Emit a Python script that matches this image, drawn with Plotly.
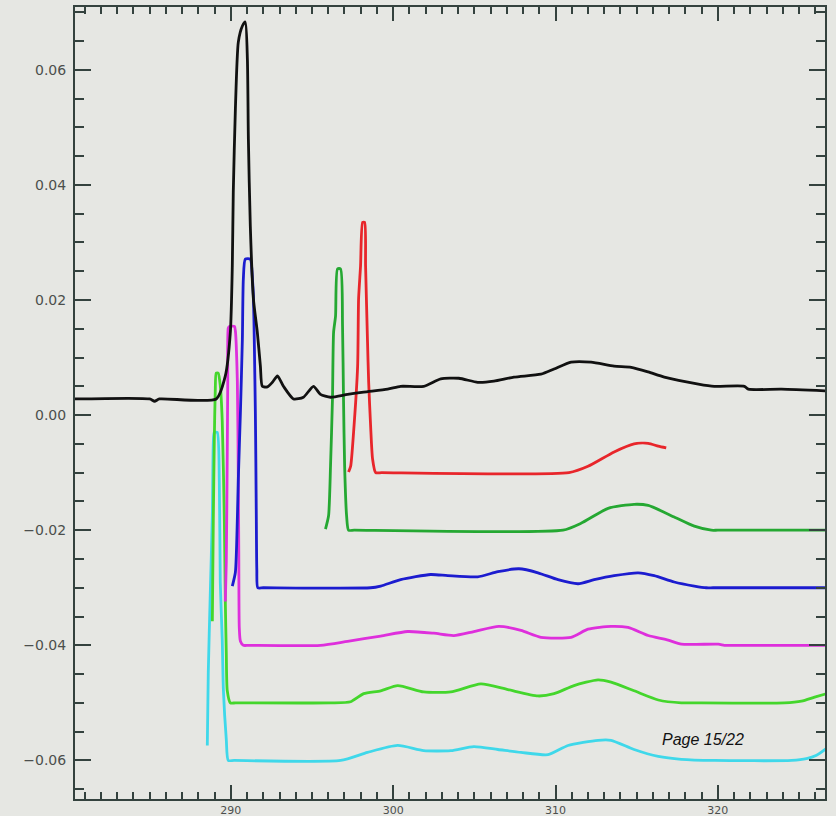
import plotly.graph_objects as go

# ---- data (wavelength, offset signal) ----
black_x = [280.4, 285.0, 285.3, 285.6, 289.1, 289.66, 289.97, 290.09, 290.15, 290.28,
           290.46, 290.71, 290.89, 291.02, 291.08, 291.2, 291.39, 291.63, 291.82, 291.94,
           292.25, 292.56, 292.87, 293.24, 293.86, 294.47, 295.09, 295.52, 296.14, 297.19,
           298.18, 299.66, 300.46, 301.88, 302.93, 304.04, 305.21, 306.2, 307.44, 309.1,
           309.91, 310.96, 312.19, 313.61, 314.66, 315.71, 316.7, 318.8, 319.78, 321.63,
           321.88, 323.92, 326.7]
black_y = [0.0028, 0.0028, 0.0024, 0.0028, 0.0028, 0.0068, 0.0144, 0.0259, 0.0387, 0.0532,
           0.0648, 0.0676, 0.0683, 0.0618, 0.048, 0.0328, 0.0202, 0.0144, 0.0085, 0.005,
           0.0049, 0.0057, 0.0068, 0.005, 0.0028, 0.0031, 0.005, 0.0036, 0.0031, 0.0036,
           0.004, 0.0045, 0.005, 0.005, 0.0063, 0.0064, 0.0057, 0.0059, 0.0066, 0.0071,
           0.008, 0.0092, 0.0092, 0.0085, 0.0083, 0.0075, 0.0066, 0.0054, 0.005, 0.005,
           0.0045, 0.0045, 0.0042]

red_x = [297.25, 297.38, 297.56, 297.81, 297.87, 297.99, 298.12, 298.24, 298.3, 298.42,
         298.49, 298.61, 298.73, 298.92, 299.3, 310.83, 312.0, 313.61, 314.84, 315.71, 316.33, 316.82]
red_y = [-0.0099, -0.0089, -0.003, 0.0085, 0.0202, 0.0259, 0.0335, 0.0335, 0.0259, 0.0127,
         0.0057, -0.0019, -0.0076, -0.01, -0.01, -0.01, -0.0089, -0.0064, -0.005, -0.0049, -0.0054, -0.0057]

green_x = [295.83, 296.02, 296.14, 296.26, 296.33, 296.45, 296.57, 296.76, 296.88, 296.94,
           297.01, 297.13, 297.25, 297.6, 310.46, 311.57, 313.24, 314.84, 315.71, 317.31, 318.55,
           319.6, 320.0, 326.7]
green_y = [-0.0198, -0.0175, -0.0089, 0.0028, 0.0144, 0.0172, 0.0254, 0.0254, 0.0155, 0.0028,
           -0.0089, -0.0175, -0.02, -0.02, -0.02, -0.0188, -0.0162, -0.0155, -0.0157, -0.0177, -0.0193,
           -0.02, -0.02, -0.02]

blue_x = [290.09, 290.28, 290.4, 290.46, 290.59, 290.71, 290.77, 290.89, 291.2, 291.33,
          291.39, 291.45, 291.51, 291.54, 291.57, 291.6, 291.66, 292.0, 298.61, 299.23, 300.46,
          302.31, 303.36, 305.21, 306.45, 307.75, 308.92, 310.15, 311.39, 312.38, 313.61,
          315.09, 316.08, 317.31, 318.55, 319.29, 319.7, 326.7]
blue_y = [-0.0297, -0.0273, -0.0181, -0.0111, 0.0005, 0.0132, 0.0236, 0.0271, 0.0271, 0.0236,
          0.0207, 0.012, 0.0005, -0.0078, -0.0182, -0.0269, -0.03, -0.03, -0.03, -0.0297, -0.0286,
          -0.0277, -0.0279, -0.0281, -0.0272, -0.0267, -0.0274, -0.0286, -0.0293, -0.0286, -0.0279,
          -0.0274, -0.0279, -0.029, -0.0297, -0.03, -0.03, -0.03]

magenta_x = [289.66, 289.72, 289.78, 289.81, 289.84, 289.91, 290.22, 290.28, 290.4, 290.46,
             290.49, 290.52, 290.59, 290.77, 291.1, 295.52, 297.19, 299.23, 300.89, 302.5, 303.73,
             304.97, 306.51, 307.87, 309.1, 310.96, 312.0, 313.42, 314.47, 315.71, 316.94,
             317.75, 320.03, 320.4, 320.8, 326.7]
magenta_y = [-0.0324, -0.0254, -0.0063, 0.0059, 0.0151, 0.0154, 0.0154, 0.0146, 0.0059, -0.011,
             -0.0242, -0.037, -0.0393, -0.04, -0.04, -0.04, -0.0393, -0.0384, -0.0376, -0.0379, -0.0383,
             -0.0376, -0.0367, -0.0374, -0.0386, -0.0386, -0.0372, -0.0367, -0.0369, -0.0383, -0.0391,
             -0.0398, -0.0398, -0.04, -0.04, -0.04]

lime_x = [288.86, 288.92, 288.98, 289.04, 289.1, 289.22, 289.35, 289.47, 289.6, 289.66,
          289.72, 289.78, 289.97, 290.3, 296.14, 297.38, 298.18, 299.23, 300.28, 301.88, 303.55,
          305.4, 307.07, 308.92, 309.91, 311.14, 312.62, 313.42, 314.84, 316.33, 317.75,
          318.2, 324.1, 325.15, 325.96, 326.7]
lime_y = [-0.0358, -0.0184, -0.0045, 0.0042, 0.0073, 0.0073, 0.0051, -0.001, -0.0184, -0.0323,
          -0.0415, -0.0479, -0.05, -0.05, -0.05, -0.0498, -0.0484, -0.0479, -0.047, -0.0481, -0.0481,
          -0.0467, -0.0477, -0.0488, -0.0484, -0.047, -0.046, -0.0464, -0.0479, -0.0495, -0.05,
          -0.05, -0.05, -0.0497, -0.049, -0.0484]

cyan_x = [288.55, 288.61, 288.73, 288.86, 288.92, 288.98, 289.16, 289.29, 289.35, 289.47,
          289.54, 289.72, 289.84, 290.2, 296.76, 298.42, 300.28, 301.88, 303.55, 304.97, 306.45,
          307.87, 309.54, 310.77, 312.62, 313.42, 314.84, 316.33, 317.75, 319.78, 324.54,
          325.46, 326.08, 326.7]
cyan_y = [-0.0574, -0.0447, -0.0313, -0.0174, -0.0048, -0.003, -0.003, -0.0117, -0.0291, -0.039,
          -0.0477, -0.0564, -0.06, -0.06, -0.06, -0.0586, -0.0574, -0.0583, -0.0583, -0.0576, -0.0581,
          -0.0586, -0.059, -0.0574, -0.0565, -0.0565, -0.0581, -0.0593, -0.0598, -0.06, -0.06,
          -0.0597, -0.0591, -0.0579]

y_tick_vals = [-0.06, -0.04, -0.02, 0.00, 0.02, 0.04, 0.06]
y_tick_text = ["\u22120.06", "\u22120.04", "\u22120.02", "0.00", "0.02", "0.04", "0.06"]
x_tick_vals = [290, 300, 310, 320]
x_tick_text = ["290", "300", "310", "320"]

series = [
    (cyan_x, cyan_y, "#3fd8ea"),
    (lime_x, lime_y, "#44d62c"),
    (magenta_x, magenta_y, "#de2fdc"),
    (blue_x, blue_y, "#1c1ccf"),
    (green_x, green_y, "#25a832"),
    (red_x, red_y, "#e8262b"),
    (black_x, black_y, "#111111"),
]

fig = go.Figure()
for xs, ys, col in series:
    assert len(xs) == len(ys)
    fig.add_trace(go.Scatter(x=xs, y=ys, mode="lines",
                             line=dict(color=col, width=2.8, shape="spline", smoothing=0.6),
                             showlegend=False, hoverinfo="skip"))

bg = "#e6e7e3"
axcol = "#34423e"
lblfont = dict(family="DejaVu Sans, Arial, sans-serif", color="#4c4f4d", size=14)
xlblfont = dict(family="DejaVu Sans, Arial, sans-serif", color="#4c4f4d", size=11)
fig.update_layout(
    width=836, height=816,
    margin=dict(l=75, r=11, t=7, b=17),
    paper_bgcolor=bg, plot_bgcolor=bg,
    font=lblfont,
    xaxis=dict(range=[280.4, 326.6], showgrid=False, zeroline=False, automargin=False,
               showline=True, linecolor=axcol, linewidth=2, mirror="allticks",
               ticks="inside", ticklen=14, tickwidth=1.5, tickcolor=axcol,
               tickvals=x_tick_vals, ticktext=x_tick_text, ticklabelstandoff=0,
               tickfont=xlblfont,
               minor=dict(dtick=1, ticks="inside", ticklen=7, tickwidth=1.5,
                          tickcolor=axcol, showgrid=False)),
    yaxis=dict(range=[-0.0667, 0.0709], showgrid=False, zeroline=False, automargin=False,
               showline=True, linecolor=axcol, linewidth=2, mirror="allticks",
               ticks="inside", ticklen=16, tickwidth=1.5, tickcolor=axcol,
               tickvals=y_tick_vals, ticktext=y_tick_text, ticklabelstandoff=4,
               tickfont=lblfont,
               minor=dict(dtick=0.005, tick0=0, ticks="inside", ticklen=9, tickwidth=1.5,
                          tickcolor=axcol, showgrid=False)),
    annotations=[dict(text="<i>Page 15/22</i>", xref="paper", yref="paper",
                      x=0.78, y=0.075, xanchor="left", yanchor="middle",
                      showarrow=False, font=dict(size=16, color="#111111",
                                                 family="Liberation Sans, Arial, sans-serif"))],
)

fig.write_html("out.html")
